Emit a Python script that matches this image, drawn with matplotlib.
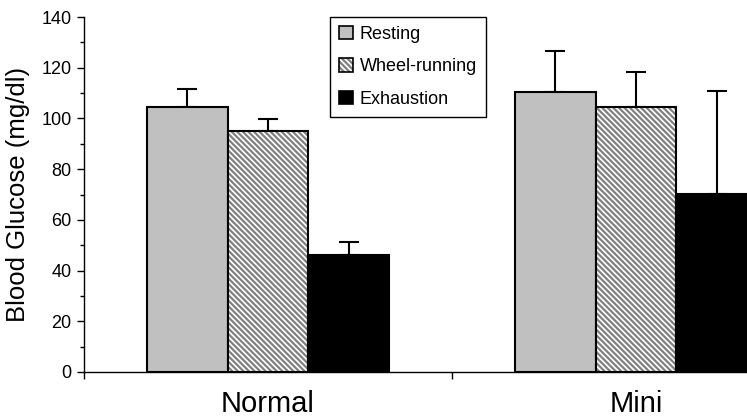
import matplotlib
matplotlib.use("Agg")
import matplotlib.pyplot as plt
import numpy as np

plt.rcParams['font.family'] = ['Liberation Sans', 'DejaVu Sans']
plt.rcParams['hatch.linewidth'] = 1.6

categories = ["Normal", "Mini"]
series = ["Resting", "Wheel-running", "Exhaustion"]
resting = [104.6, 110.3]
resting_err = [7.0, 16.3]
wheel = [95.0, 104.6]
wheel_err = [4.8, 13.7]
exhaustion = [46.1, 70.1]
exhaustion_err = [5.2, 40.7]
yticks = [0, 20, 40, 60, 80, 100, 120, 140]

fig = plt.figure(figsize=(7.47, 4.18), dpi=100)
ax = fig.add_axes([84/747, 46/418, 736/747, 355/418])

x = np.arange(len(categories))
w = 0.22
hatch_grey = '#808080'
vals = [resting, wheel, exhaustion]
errs = [resting_err, wheel_err, exhaustion_err]
handles = []
for i, (v, e, name) in enumerate(zip(vals, errs, series)):
    pos = x + (i - 1) * w
    if i == 1:
        # hatch layer (grey stripes on white)
        ax.bar(pos, v, width=w, facecolor='white', hatch='\\\\\\\\\\\\',
               edgecolor=hatch_grey, linewidth=0, zorder=2)
        b = ax.bar(pos, v, width=w, facecolor='none', edgecolor='black',
                   linewidth=1.5, zorder=3)
    else:
        fc = '#c0c0c0' if i == 0 else 'black'
        b = ax.bar(pos, v, width=w, facecolor=fc, edgecolor='black',
                   linewidth=1.5, zorder=2)
    ax.errorbar(pos, v, yerr=[np.zeros(len(e)), e], fmt='none', ecolor='black',
                elinewidth=1.5, capsize=7, capthick=1.5, zorder=1)

# legend proxy handles
from matplotlib.patches import Patch
from matplotlib.legend_handler import HandlerBase
from matplotlib.patches import Rectangle

class HatchHandler(HandlerBase):
    def create_artists(self, legend, orig_handle, xdescent, ydescent, width, height, fontsize, trans):
        r1 = Rectangle((-xdescent, -ydescent), width, height, facecolor='white',
                       edgecolor=hatch_grey, hatch='\\\\\\\\\\\\', linewidth=0, transform=trans)
        r2 = Rectangle((-xdescent, -ydescent), width, height, facecolor='none',
                       edgecolor='black', linewidth=1.2, transform=trans)
        return [r1, r2]

h_rest = Patch(facecolor='#c0c0c0', edgecolor='black', linewidth=1.2)
h_wheel = Patch(facecolor='white')
h_exh = Patch(facecolor='black', edgecolor='black', linewidth=1.2)

ax.set_xlim(-0.5, 1.5)
ax.set_ylim(0, 140)
ax.set_yticks(yticks)
ax.set_yticks(np.arange(0, 141, 10), minor=True)
ax.tick_params(axis='y', which='major', length=5, width=1, labelsize=13, direction='out', pad=4)
ax.tick_params(axis='y', which='minor', length=3, width=1, direction='out')
ax.set_xticks([-0.5, 0.5, 1.5])
ax.set_xticklabels(['', '', ''])
ax.tick_params(axis='x', length=5, width=1, direction='out')
for xi, c in zip(x, categories):
    ax.text(xi, -12.6, c, ha='center', va='center', fontsize=21, clip_on=False,
            transform=ax.transData)
ax.set_ylabel("Blood Glucose (mg/dl)", fontsize=18.5, labelpad=8)
ax.spines['top'].set_visible(False)
ax.spines['right'].set_visible(False)
ax.spines['left'].set_linewidth(1)
ax.spines['bottom'].set_linewidth(1)

leg = ax.legend([h_rest, h_wheel, h_exh], series,
                handler_map={h_wheel: HatchHandler()},
                loc='upper left', bbox_to_anchor=(330/747, 1 - 17/418),
                bbox_transform=fig.transFigure, fontsize=13, frameon=True,
                fancybox=False, framealpha=1, edgecolor='black',
                handlelength=0.75, handleheight=0.75, handletextpad=0.4,
                labelspacing=0.85, borderpad=0.5, borderaxespad=0)
leg.get_frame().set_linewidth(1)

fig.savefig("out.png", dpi=100)
